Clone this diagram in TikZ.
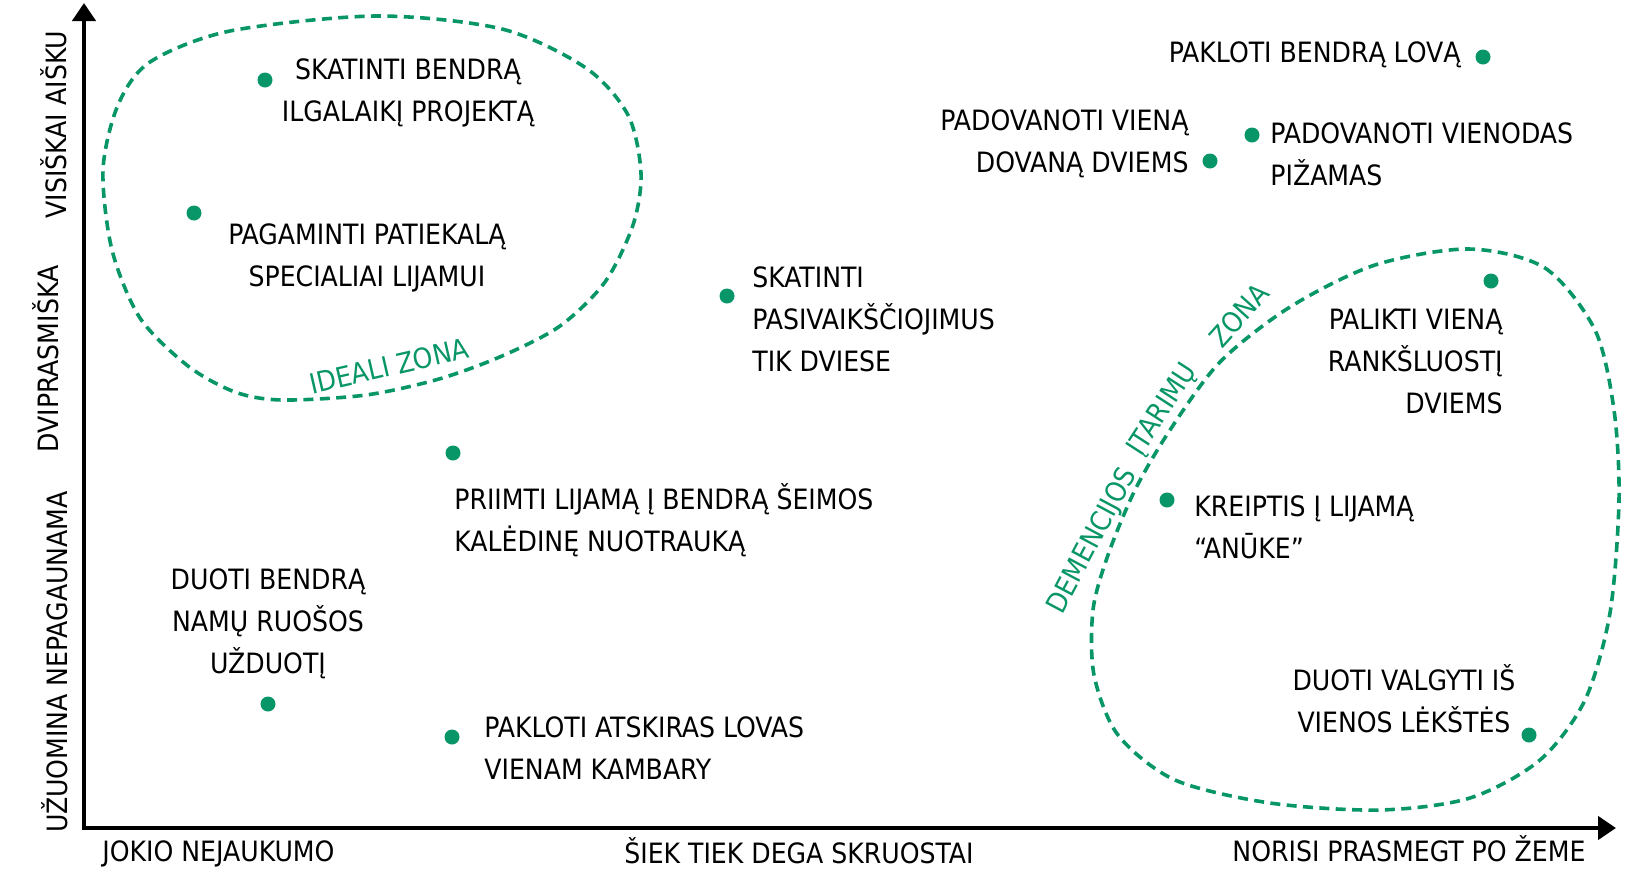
\documentclass[tikz,border=0pt]{standalone}
\usepackage{fontspec}
\setmainfont{DejaVu Sans Condensed}
\usetikzlibrary{arrows.meta}
\definecolor{zgreen}{RGB}{8,150,104}
\begin{document}
\begin{tikzpicture}[x=0.5pt,y=-0.5pt,
  lbl/.style={font=\fontsize{14}{21}\selectfont, inner sep=0pt},
  zlbl/.style={lbl, text=zgreen},
  dot/.style={circle, fill=zgreen, minimum size=7.5pt, inner sep=0pt},
  zone/.style={draw=zgreen, line width=1.8pt, dash pattern=on 5pt off 3.2pt},
  axis/.style={line width=2.2pt, {Triangle[length=9pt,width=11.5pt]}-{Triangle[length=9pt,width=11.5pt]}}]
\useasboundingbox (0,0) rectangle (1640,890);

% axes
\coordinate (O) at (84,828);
\coordinate (ytip) at (84,3);
\coordinate (xtip) at (1616,828);
\draw[axis] (ytip) -- (O) -- (xtip);

% axis labels
\node[lbl, anchor=base west] (xl1) at (102,861) {JOKIO NEJAUKUMO};
\node[lbl, anchor=base] (xl2) at (799,863) {ŠIEK TIEK DEGA SKRUOSTAI};
\node[lbl, anchor=base east] (xl3) at (1586,861) {NORISI PRASMEGT PO ŽEME};
\node[lbl, anchor=base, rotate=90] (yl1) at (66,124.5) {VISIŠKAI AIŠKU};
\node[lbl, anchor=base, rotate=90] (yl2) at (58,359) {DVIPRASMIŠKA};
\node[lbl, anchor=base, rotate=90] (yl3) at (68,662) {UŽUOMINA NEPAGAUNAMA};

% zones
\draw[zone] plot[smooth cycle] coordinates {(376,16) (502,29) (586,68) (628,115) (641,173) (633,225) (605,282) (560,326) (502,356) (439,379) (366,395) (282,400) (235,392) (188,366) (140,318) (112,250) (103,170) (118,105) (150,62) (230,31)};
\node[zlbl, rotate=13] (z1) at (389,366) {IDEALI ZONA};

\draw[zone] plot[smooth cycle] coordinates {(1469,249) (1545,268) (1595,330) (1614,410) (1619,500) (1610,613) (1585,700) (1540,760) (1470,798) (1380,810) (1270,803) (1175,780) (1118,735) (1094,675) (1093,610) (1108,555) (1135,490) (1170,430) (1220,362) (1290,307) (1375,265)};
\node[zlbl, rotate=62] (z2a) at (1093,541) {DEMENCIJOS};
\node[zlbl, rotate=57] (z2b) at (1163,410) {ĮTARIMŲ};
\node[zlbl, rotate=48] (z2c) at (1239,315) {ZONA};

% points
\node[dot] (d1) at (265,80) {};
\node[lbl, align=center, anchor=base] (t1) at (408,121) {SKATINTI BENDRĄ\\ILGALAIKĮ PROJEKTĄ};
\node[dot] (d2) at (194,213) {};
\node[lbl, align=center, anchor=base] (t2) at (367,286) {PAGAMINTI PATIEKALĄ\\SPECIALIAI LIJAMUI};
\node[dot] (d3) at (727,296) {};
\node[lbl, align=left, anchor=base west] (t3) at (752,371) {SKATINTI\\PASIVAIKŠČIOJIMUS\\TIK DVIESE};
\node[dot] (d4) at (453,453) {};
\node[lbl, align=left, anchor=base west] (t4) at (454,551) {PRIIMTI LIJAMĄ Į BENDRĄ ŠEIMOS\\KALĖDINĘ NUOTRAUKĄ};
\node[dot] (d5) at (268,704) {};
\node[lbl, align=center, anchor=base] (t5) at (268,673) {DUOTI BENDRĄ\\NAMŲ RUOŠOS\\UŽDUOTĮ};
\node[dot] (d6) at (452,737) {};
\node[lbl, align=left, anchor=base west] (t6) at (484,779) {PAKLOTI ATSKIRAS LOVAS\\VIENAM KAMBARY};
\node[dot] (d7) at (1483,57) {};
\node[lbl, anchor=base east] (t7) at (1461,62) {PAKLOTI BENDRĄ LOVĄ};
\node[dot] (d8) at (1210,161) {};
\node[lbl, align=right, anchor=base east] (t8) at (1189,172) {PADOVANOTI VIENĄ\\DOVANĄ DVIEMS};
\node[dot] (d9) at (1252,135) {};
\node[lbl, align=left, anchor=base west] (t9) at (1270,185) {PADOVANOTI VIENODAS\\PIŽAMAS};
\node[dot] (d10) at (1491,281) {};
\node[lbl, align=right, anchor=base east] (t10) at (1503,413) {PALIKTI VIENĄ\\RANKŠLUOSTĮ\\DVIEMS};
\node[dot] (d11) at (1167,500) {};
\node[lbl, align=left, anchor=base west] (t11) at (1194,558) {KREIPTIS Į LIJAMĄ\\“ANŪKE”};
\node[dot] (d12) at (1529,735) {};
\node[lbl, align=center, anchor=base] (t12) at (1404,732) {DUOTI VALGYTI IŠ\\VIENOS LĖKŠTĖS};
\end{tikzpicture}
\end{document}
